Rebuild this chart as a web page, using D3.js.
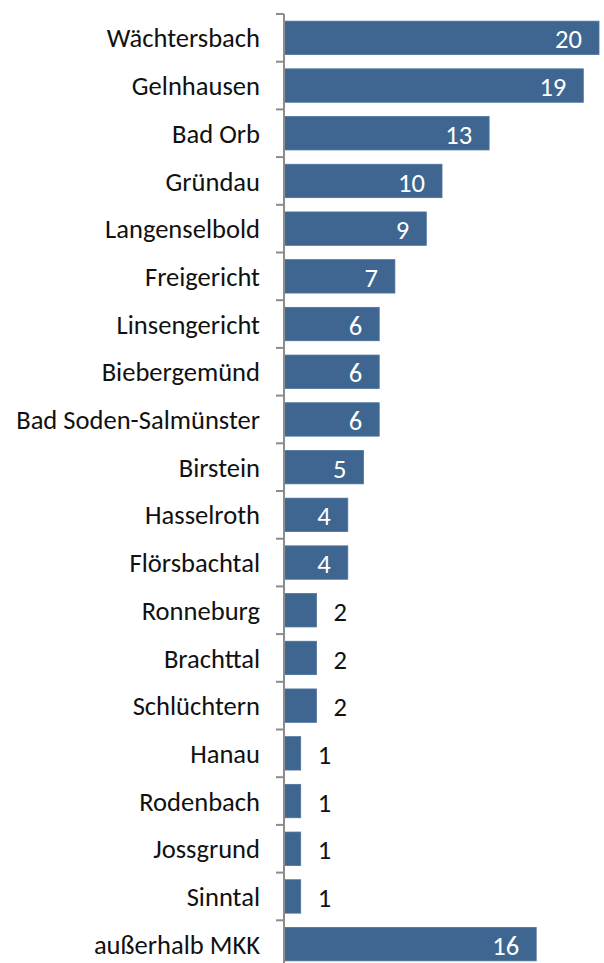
<!DOCTYPE html>
<html><head><meta charset="utf-8">
<script src="https://cdn.jsdelivr.net/npm/d3@7"></script>
<style>body{margin:0;background:#fff;}svg{display:block;}</style>
</head><body>
<script>
const categories = ["Wächtersbach","Gelnhausen","Bad Orb","Gründau","Langenselbold","Freigericht","Linsengericht","Biebergemünd","Bad Soden-Salmünster","Birstein","Hasselroth","Flörsbachtal","Ronneburg","Brachttal","Schlüchtern","Hanau","Rodenbach","Jossgrund","Sinntal","außerhalb MKK"];
const values = [20,19,13,10,9,7,6,6,6,5,4,4,2,2,2,1,1,1,1,16];

const W = 604, H = 963;
const svg = d3.select("body").append("svg").attr("width", W).attr("height", H);
const font = "Carlito, 'Open Sans', sans-serif";

// measure to fit the label font to the reference width
const probe = svg.append("text").attr("font-family", font).attr("font-size", 20).text("Bad Soden-Salmünster");
const fs = 20 * 244 / probe.node().getComputedTextLength();
probe.remove();

const x = d3.scaleLinear().domain([0, 20]).range([285, 599]);
const y = d3.scaleBand().domain(categories).range([14, 14 + 20 * 47.7]).paddingInner(0.3).paddingOuter(0.15);

svg.selectAll("rect.bar").data(values).join("rect")
  .attr("x", x(0))
  .attr("y", (d, i) => y(categories[i]))
  .attr("width", d => x(d) - x(0))
  .attr("height", y.bandwidth())
  .attr("fill", "#3e6690")
  .attr("stroke", "#4a72a0").attr("stroke-width", 0.8);

const axis = d3.axisLeft(y).tickSize(8).tickPadding(16).tickSizeOuter(0);
const g = svg.append("g").attr("transform", `translate(${x(0) - 1},0)`).call(axis);
g.select(".domain").attr("stroke", "#8c8c8c").attr("stroke-width", 2);
g.selectAll(".tick line").remove();
g.selectAll(".tick text").attr("font-family", font).attr("font-size", fs).attr("fill", "#111").attr("dy", "0.36em");
const bounds = d3.range(0, 21).map(i => 14 + i * 47.7);
g.selectAll("line.bt").data(bounds).join("line").attr("class", "bt")
  .attr("x1", -8).attr("x2", 0).attr("y1", d => d).attr("y2", d => d)
  .attr("stroke", "#8c8c8c").attr("stroke-width", 2);
g.select(".domain").attr("d", `M0,14V${H}`);

svg.selectAll("text.val").data(values).join("text")
  .attr("class", "val")
  .attr("x", d => d >= 4 ? x(d) - 17 : x(d) + 17)
  .attr("y", (d, i) => y(categories[i]) + y.bandwidth() / 2 + 1)
  .attr("dy", "0.36em")
  .attr("text-anchor", d => d >= 4 ? "end" : "start")
  .attr("font-family", font).attr("font-size", fs)
  .attr("fill", d => d >= 4 ? "#fff" : "#111")
  .text(d => d);
</script>
</body></html>
